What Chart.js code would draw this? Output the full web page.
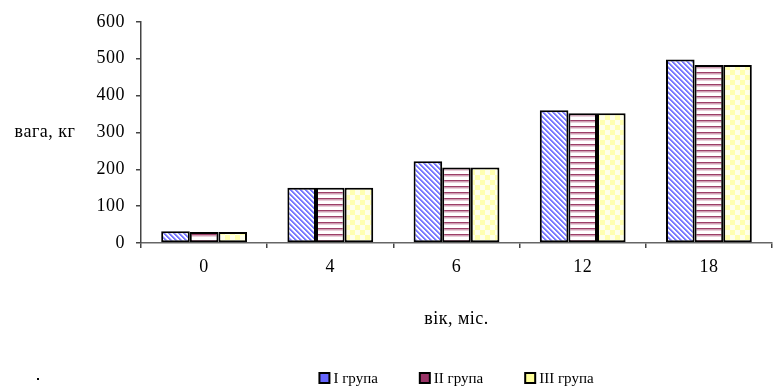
<!DOCTYPE html>
<html lang="uk">
<head>
<meta charset="UTF-8">
<title>Вага за віком</title>
<script src="https://cdn.jsdelivr.net/npm/chart.js"></script>
<style>
    html, body { margin: 0; padding: 0; background: #fff; }
    #wrap { width: 775px; height: 387px; }
</style>
</head>
<body>
<div id="wrap"><canvas id="chart" width="775" height="387"></canvas></div>
<script>
    // data
    const categories = ['0', '4', '6', '12', '18'];
    const groupNames = ['I група', 'II група', 'III група'];
    const group1 = [32, 150, 222, 360, 498];
    const group2 = [30, 150, 205, 352, 483];
    const group3 = [30, 150, 205, 352, 483];
    const yTicks = [0, 100, 200, 300, 400, 500, 600];

    const FONT = '"Liberation Serif", "Times New Roman", serif';

    // small tiles for the hatched fills
    function makePattern(size, draw) {
        const c = document.createElement('canvas');
        c.width = size; c.height = size;
        const g = c.getContext('2d');
        g.fillStyle = '#fff';
        g.fillRect(0, 0, size, size);
        draw(g, size);
        return g.createPattern(c, 'repeat');
    }

    const bluePattern = makePattern(5, (g, s) => {
        for (let y = 0; y < s; y++) {
            for (let x = 0; x < s; x++) {
                const d = ((x - y) % s + s) % s;
                if (d < 2) { g.fillStyle = '#7a7aff'; g.fillRect(x, y, 1, 1); }
                else if (d === 2) { g.fillStyle = '#b8b8ff'; g.fillRect(x, y, 1, 1); }
            }
        }
    });
    const maroonPattern = makePattern(6, (g, s) => {
        g.fillStyle = '#9c3f68';
        g.fillRect(0, 0, s, 1.5);
        g.fillStyle = '#d4a0b6';
        g.fillRect(0, 1.5, s, 1);
    });
    const yellowPattern = makePattern(10, (g, s) => {
        g.fillStyle = '#ffffb0';
        g.fillRect(0, 0, 5, 5);
        g.fillRect(5, 5, 5, 5);
        g.fillStyle = '#ffffea';
        g.fillRect(5, 0, 5, 5);
        g.fillRect(0, 5, 5, 5);
    });
    const patterns = [bluePattern, maroonPattern, yellowPattern];
    const swatch = ['#6666ff', '#993366', '#ffff99'];

    const extras = {
        id: 'extras',
        beforeDraw(chart) {
            chart.ctx.letterSpacing = '0.5px';
        },
        afterDraw(chart) {
            const ctx = chart.ctx;
            const area = chart.chartArea;
            ctx.save();
            ctx.fillStyle = '#000';
            ctx.font = '18px ' + FONT;
            ctx.textBaseline = 'middle';
            ctx.textAlign = 'center';
            // axis titles
            ctx.fillText('вага, кг', 45, 132);
            ctx.fillText('вік, міс.', (area.left + area.right) / 2, 319);

            // legend along the bottom
            ctx.letterSpacing = '0px';
            ctx.font = '15px ' + FONT;
            const box = 10, gap = 4, space = 42;
            const widths = groupNames.map(n => box + gap + ctx.measureText(n).width);
            const total = widths.reduce((a, b) => a + b, 0) + space * (widths.length - 1);
            let x = (area.left + area.right) / 2 - total / 2;
            const y = 378;
            ctx.textAlign = 'left';
            groupNames.forEach((n, i) => {
                ctx.fillStyle = swatch[i];
                ctx.fillRect(x, y - box / 2, box, box);
                ctx.lineWidth = 2;
                ctx.strokeStyle = '#000';
                ctx.strokeRect(x, y - box / 2, box, box);
                ctx.fillStyle = '#000';
                ctx.fillText(n, x + box + gap, y + 1);
                x += widths[i] + space;
            });
            ctx.fillRect(37, 378, 2, 2);
            ctx.restore();
        }
    };

    new Chart(document.getElementById('chart'), {
        type: 'bar',
        data: {
            labels: categories,
            datasets: [group1, group2, group3].map((d, i) => ({
                label: groupNames[i],
                data: d,
                backgroundColor: patterns[i],
                borderColor: '#000',
                borderWidth: 2,
                borderSkipped: false,
                categoryPercentage: 0.68,
                barPercentage: 1.0
            }))
        },
        options: {
            responsive: false,
            animation: false,
            layout: { padding: { top: 20, right: 3, left: 0, bottom: 0 } },
            plugins: {
                legend: { display: false },
                tooltip: { enabled: false }
            },
            scales: {
                x: {
                    afterFit(scale) { scale.height = 144; },
                    grid: { display: true, drawOnChartArea: false, offset: true, tickLength: 5, color: '#444', lineWidth: 1.5 },
                    border: { color: '#666', width: 1.5 },
                    ticks: { color: '#000', padding: 8, font: { family: FONT, size: 18 } }
                },
                y: {
                    min: 0,
                    max: 600,
                    afterFit(scale) { scale.width = 141; },
                    afterBuildTicks(scale) { scale.ticks = yTicks.map(v => ({ value: v })); },
                    grid: { display: true, drawOnChartArea: false, tickLength: 5, color: '#444', lineWidth: 1.5 },
                    border: { color: '#444', width: 1.5 },
                    ticks: { color: '#000', padding: 11, font: { family: FONT, size: 18 } }
                }
            }
        },
        plugins: [extras]
    });
</script>
</body>
</html>
